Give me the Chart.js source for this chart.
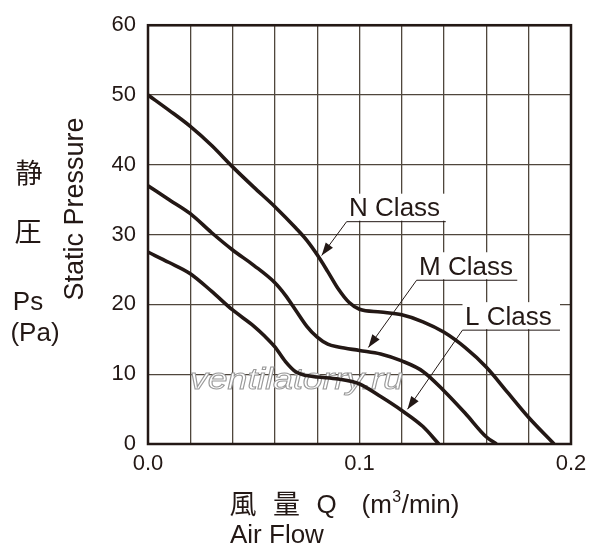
<!DOCTYPE html>
<html>
<head>
<meta charset="utf-8">
<script src="https://cdn.jsdelivr.net/npm/chart.js@4/dist/chart.umd.min.js"></script>
<style>
html,body{margin:0;padding:0;background:#fff;}
#wrap{width:600px;height:558px;position:relative;}
</style>
</head>
<body>
<div id="wrap"><canvas id="c" width="600" height="558"></canvas></div>
<script>
// ---- data ----
const seriesNames = ['N Class', 'M Class', 'L Class'];
const xN = [0,0.01,0.02,0.03,0.04,0.05,0.06,0.07,0.075,0.08,0.085,0.09,0.095,0.1,0.11,0.12,0.13,0.14,0.15,0.16,0.17,0.18,0.192];
const yN = [50,47.8,45.5,42.8,39.7,36.8,34,30.9,29.2,27.1,24.7,22.2,20.3,19.3,18.9,18.5,17.5,16,13.8,11,7.4,3.8,0];
const xM = [0,0.01,0.02,0.03,0.04,0.05,0.06,0.065,0.07,0.075,0.08,0.085,0.09,0.1,0.11,0.12,0.13,0.14,0.15,0.16,0.1648];
const yM = [37,35,33,30.3,27.8,25.6,23.1,21.3,19.1,16.9,15.3,14.3,13.9,13.4,12.9,11.9,10.4,7.6,4.4,1.0,0];
const xL = [0,0.01,0.02,0.03,0.04,0.05,0.055,0.06,0.065,0.07,0.075,0.08,0.09,0.1,0.11,0.12,0.13,0.1375];
const yL = [27.5,26.0,24.4,21.9,19.2,16.9,15.5,13.9,11.8,10.3,9.8,9.6,9.3,8.6,6.8,4.8,2.5,0];
const xTickLabels = ['0.0','0.1','0.2'];

// label callouts in data units: underline start/end x, underline y, arrow tip
const callouts = [
  {text: seriesNames[0], x0: 0.0939, x1: 0.1408, y: 31.85, tx: 0.0821, ty: 27.0},
  {text: seriesNames[1], x0: 0.1270, x1: 0.1746, y: 23.46, tx: 0.1042, ty: 13.83},
  {text: seriesNames[2], x0: 0.1487, x1: 0.1948, y: 16.31, tx: 0.1227, ty: 4.98}
];

const INK = '#231815';
const GRID = '#4f463c';
const LATIN = '"Liberation Sans", Arial, Helvetica, sans-serif';
const CJK = '"Noto Sans CJK JP", "Noto Sans CJK SC", sans-serif';

function pts(xs, ys){ return xs.map((x,i)=>({x:x, y:ys[i]})); }

const decor = {
  id: 'decor',
  beforeDatasetsDraw(chart){
    const ctx = chart.ctx, a = chart.chartArea;
    const sx = chart.scales.x, sy = chart.scales.y;
    ctx.save();
    // white boxes behind callout labels
    ctx.fillStyle = '#fff';
    callouts.forEach(c=>{
      const l = sx.getPixelForValue(c.x0), r = sx.getPixelForValue(c.x1), yy = sy.getPixelForValue(c.y);
      ctx.fillRect(l, yy-28, r-l, 27);
    });
    // watermark
    ctx.font = 'italic 30px ' + LATIN;
    ctx.textBaseline = 'alphabetic';
    const wm = 'ventilatorry.ru';
    const w = ctx.measureText(wm).width;
    ctx.translate(190, 389);
    ctx.scale(213 / w, 1);
    ctx.fillStyle = '#fff';
    ctx.fillText(wm, 0, 0);
    ctx.strokeStyle = '#9a9a9a';
    ctx.lineWidth = 1;
    ctx.strokeText(wm, 0, 0);
    ctx.restore();
    // frame
    ctx.save();
    ctx.strokeStyle = INK;
    ctx.lineWidth = 2.5;
    ctx.strokeRect(a.left, a.top, a.right - a.left, a.bottom - a.top);
    ctx.restore();
  },
  afterDatasetsDraw(chart){
    const ctx = chart.ctx;
    const sx = chart.scales.x, sy = chart.scales.y;
    ctx.save();
    ctx.fillStyle = INK; ctx.strokeStyle = INK;
    callouts.forEach(c=>{
      const l = sx.getPixelForValue(c.x0), r = sx.getPixelForValue(c.x1), yy = sy.getPixelForValue(c.y);
      const tx = sx.getPixelForValue(c.tx), ty = sy.getPixelForValue(c.ty);
      ctx.lineWidth = 1;
      ctx.beginPath(); ctx.moveTo(r, yy); ctx.lineTo(l, yy); ctx.lineTo(tx, ty); ctx.stroke();
      // arrowhead
      const ang = Math.atan2(ty - yy, tx - l);
      const len = 13, hw = 4.5;
      const bx = tx - len*Math.cos(ang), by = ty - len*Math.sin(ang);
      ctx.beginPath();
      ctx.moveTo(tx, ty);
      ctx.lineTo(bx + hw*Math.sin(ang), by - hw*Math.cos(ang));
      ctx.lineTo(bx - hw*Math.sin(ang), by + hw*Math.cos(ang));
      ctx.closePath(); ctx.fill();
      // text
      ctx.font = '26px ' + LATIN;
      ctx.textAlign = 'left'; ctx.textBaseline = 'alphabetic';
      ctx.fillText(c.text, l + 2.5, yy - 5.5);
    });
    ctx.restore();
  },
  afterDraw(chart){
    const ctx = chart.ctx;
    ctx.save();
    ctx.fillStyle = INK;
    // left axis title
    ctx.textAlign = 'center';
    ctx.textBaseline = 'middle';
    ctx.font = '27px ' + CJK;
    ctx.fillText('静', 29, 173);
    ctx.fillText('圧', 28, 232);
    ctx.textBaseline = 'alphabetic';
    ctx.font = '26px ' + LATIN;
    ctx.fillText('Ps', 28, 310);
    ctx.fillText('(Pa)', 35, 341);
    ctx.save();
    ctx.translate(83, 209);
    ctx.rotate(-Math.PI/2);
    ctx.font = '27px ' + LATIN;
    ctx.fillText('Static Pressure', 0, 0);
    ctx.restore();
    // bottom axis title
    ctx.textBaseline = 'middle';
    ctx.font = '27px ' + CJK;
    ctx.fillText('風', 243, 504);
    ctx.fillText('量', 286.5, 504);
    ctx.textAlign = 'left';
    ctx.textBaseline = 'alphabetic';
    ctx.font = '26px ' + LATIN;
    ctx.fillText('Q', 316.5, 513);
    let x = 361.5;
    ctx.fillText('(m', x, 513); x += ctx.measureText('(m').width;
    ctx.font = '16px ' + LATIN;
    ctx.fillText('3', x + 0.5, 502); x += ctx.measureText('3').width + 1;
    ctx.font = '26px ' + LATIN;
    ctx.fillText('/min)', x, 513);
    ctx.fillText('Air Flow', 230, 543);
    ctx.restore();
  }
};

const mk = (name, xs, ys) => ({
  label: name, data: pts(xs, ys), showLine: true,
  borderColor: INK, borderWidth: 3.6, pointRadius: 0,
  cubicInterpolationMode: 'monotone', fill: false
});

new Chart(document.getElementById('c'), {
  type: 'scatter',
  data: { datasets: [ mk(seriesNames[0], xN, yN), mk(seriesNames[1], xM, yM), mk(seriesNames[2], xL, yL) ] },
  options: {
    responsive: false, animation: false, devicePixelRatio: 1,
    layout: { padding: { top: 22, right: 29, left: 0, bottom: 0 } },
    plugins: { legend: { display: false }, tooltip: { enabled: false } },
    scales: {
      x: {
        type: 'linear', min: 0, max: 0.2,
        afterFit: s => { s.height = 114; },
        border: { display: false },
        grid: { color: GRID, lineWidth: 1.3, drawTicks: false },
        ticks: {
          stepSize: 0.02, autoSkip: false, maxRotation: 0, padding: 7,
          color: INK, font: { family: LATIN, size: 22 },
          callback: v => { const k = Math.round(v*100); return k % 10 === 0 ? xTickLabels[k/10] : ''; }
        }
      },
      y: {
        min: 0, max: 60,
        afterFit: s => { s.width = 148; },
        border: { display: false },
        grid: { color: GRID, lineWidth: 1.3, drawTicks: false },
        ticks: { stepSize: 10, padding: 12, color: INK, font: { family: LATIN, size: 22 } }
      }
    }
  },
  plugins: [decor]
});
</script>
</body>
</html>
